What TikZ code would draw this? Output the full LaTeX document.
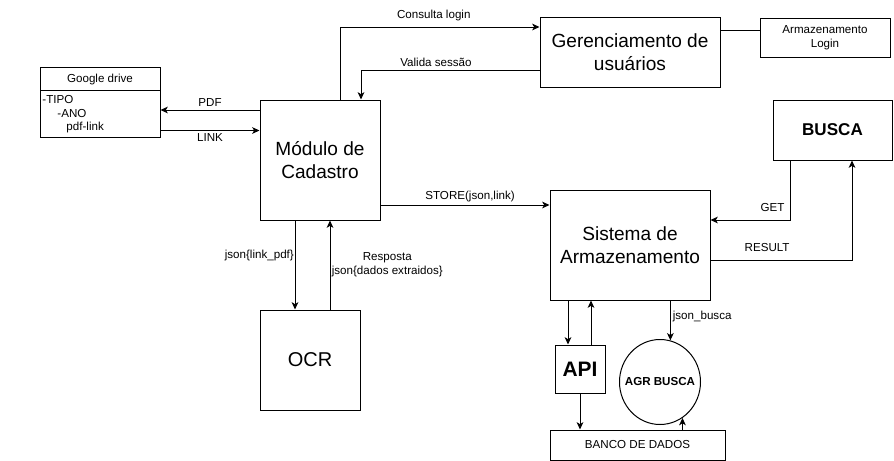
\documentclass[tikz,border=0pt]{standalone}
\usepackage{fontspec}
\setmainfont{Liberation Sans}
\usetikzlibrary{arrows.meta,fit,shapes.geometric}
\begin{document}
\begin{tikzpicture}[x=0.75pt,y=-0.75pt,line width=0.75pt,
  box/.style={draw,inner sep=0pt,align=center},
  big/.style={font=\fontsize{14.3}{17.3}\selectfont},
  small/.style={font=\fontsize{8.7}{10.8}\selectfont},
  lbl/.style={small,inner sep=2pt},
  arr/.style={-{Stealth[length=5.5pt,width=5pt,inset=1.5pt]}}]
\useasboundingbox (0,0) rectangle (894,461);
% boxes
\node[box,fit={(40,67)(160,137)}] (gd) {};
\draw (40,90) -- (160,90);
\node[small] at (100,79) {Google drive};
\node[small,anchor=west,inner sep=0pt] at (42,100) {-TIPO};
\node[small,anchor=west,inner sep=0pt] at (57,113.5) {-ANO};
\node[small,anchor=west,inner sep=0pt] at (66,127) {pdf-link};
\node[box,big,fit={(260,100)(380,220)}] (mod) {};
\node[big,align=center] at (mod.center) {Módulo de\\Cadastro};
\node[box,fit={(540,17)(720,87)}] (ger) {};
\node[big,align=center] at (ger.center) {Gerenciamento de\\usuários};
\node[box,fit={(760,18)(890,57)}] (al) {};
\node[small,align=center] at (al.center) {Armazenamento\\Login};
\node[box,fit={(773,100)(892,160)}] (busca) {};
\node[font=\fontsize{12.8}{15}\selectfont\bfseries] at (busca.center) {BUSCA};
\node[box,fit={(550,190)(710,300)}] (sis) {};
\node[big,align=center] at (sis.center) {Sistema de\\Armazenamento};
\node[box,fit={(260,310)(360,410)}] (ocr) {};
\node[font=\fontsize{15}{18}\selectfont] at (ocr.center) {OCR};
\node[box,fit={(555,345)(605,393)}] (api) {};
\node[font=\fontsize{15.7}{18}\selectfont\bfseries] at (api.center) {API};
\node[box,fit={(550,430)(725,460)}] (banco) {};
\node[small] at (banco.center) {BANCO DE DADOS};
\node[draw,ellipse,inner sep=0pt,minimum width=60.75pt,minimum height=63.75pt] (agr) at (660,382) {};
\node[font=\fontsize{8.7}{10}\selectfont\bfseries] at (agr.center) {AGR BUSCA};
% connectors
\draw[arr] (mod.west |- 0,110) -- (gd.east |- 0,110) node[midway,above,lbl] {PDF};
\draw[arr] (gd.east |- 0,130.5) -- (mod.west |- 0,130.5) node[midway,below,lbl] {LINK};
\draw[arr] (340,0 |- mod.north) |- (ger.west |- 0,27) node[pos=0.735,above,lbl,yshift=2pt] {Consulta login};
\draw[arr] (ger.west |- 0,70) -| (361,0 |- mod.north) node[pos=0.29,above,lbl] {Valida sessão};
\draw (ger.east |- 0,30.5) -- (al.west |- 0,30.5);
\draw[arr] (mod.east |- 0,205) -- (sis.west |- 0,205) node[pos=0.53,above,lbl] {STORE(json,link)};
\draw[arr] (295,0 |- mod.south) -- (295,0 |- ocr.north) node[pos=0.39,left,lbl,inner sep=0.5pt] {json\{link\_pdf\}};
\draw[arr] (330,0 |- ocr.north) -- (330,0 |- mod.south) node[pos=0.5,right,lbl,align=center,inner sep=1pt] {Resposta\\json\{dados extraidos\}};
\draw[arr] (790,0 |- busca.south) |- (sis.east |- 0,220) node[pos=0.61,above,lbl,yshift=4pt] {GET};
\draw[arr] (sis.east |- 0,260) -| (852,0 |- busca.south) node[pos=0.2,above,lbl,yshift=4pt] {RESULT};
\draw[arr] (568,0 |- sis.south) -- (568,0 |- api.north);
\draw[arr] (591,0 |- api.north) -- (591,0 |- sis.south);
\draw[arr] (api.south) -- (api.south |- banco.north);
\draw[arr] (agr.76 |- sis.south) -- (agr.76) node[pos=0.4,right,lbl,inner sep=1.5pt] {json\_busca};
\draw[arr] (agr.-58 |- banco.north) -- (agr.-58);
\end{tikzpicture}
\end{document}
